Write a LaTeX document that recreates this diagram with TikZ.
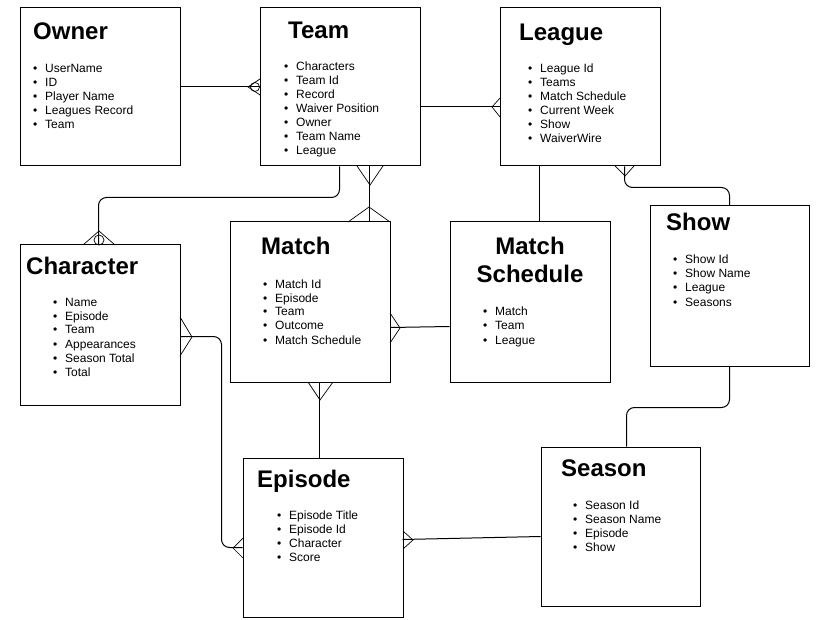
\documentclass[tikz,border=0pt]{standalone}
\usepackage{fontspec}
\setmainfont{Liberation Sans}
\usetikzlibrary{calc}
\tikzset{
  box/.style={draw=black, line width=1pt, fill=white, inner sep=0pt, minimum width=160pt, minimum height=159pt},
  ttl/.style={font=\bfseries\fontsize{24}{24}\selectfont, inner sep=0pt, anchor=base west},
  ttlc/.style={font=\bfseries\fontsize{24}{24}\selectfont, inner sep=0pt, anchor=base},
  itm/.style={font=\fontsize{12}{14}\selectfont, inner sep=0pt, anchor=base west},
  conn/.style={draw=black, line width=1pt, rounded corners=8pt},
  foot/.style={draw=black, line width=0.7pt},
}
\newcommand\itemlist[4]{%
  \foreach \t [count=\i] in {#4} {
    \node[itm] (#1-\i) at (#2-12, #3+14*\i-10) {\makebox[12pt][l]{\textbullet}\t};
  }}
\newcommand\crowfoot[3]{\draw[foot] (#2) -- (#1) -- (#3);}
\begin{document}
\begin{tikzpicture}[x=1pt,y=-1pt]
\useasboundingbox (0,0) rectangle (819,620);
% boxes
\node[box, minimum height=158pt] (owner) at (100,87) {};
\node[box, minimum height=158pt] (team) at (340,87) {};
\node[box, minimum height=158pt] (league) at (580,87) {};
\node[box, minimum height=160pt] (character) at (100,325) {};
\node[box, minimum height=160pt] (match) at (310,302) {};
\node[box, minimum height=160pt] (schedule) at (530,302) {};
\node[box, minimum width=159pt, minimum height=160pt] (show) at (729.5,286) {};
\node[box] (episode) at (323,537.5) {};
\node[box, minimum width=159pt] (season) at (620.5,526.5) {};
% titles
\node[ttl] (t-owner) at (33,40) {Owner};
\node[ttl] (t-team) at (288,39) {Team};
\node[ttl] (t-league) at (519,41) {League};
\node[ttl] (t-character) at (26,275) {Character};
\node[ttl] (t-match) at (261,255) {Match};
\node[ttlc] (t-sched1) at (530,255) {Match};
\node[ttlc] (t-sched2) at (530,283) {Schedule};
\node[ttl] (t-show) at (666,231) {Show};
\node[ttl] (t-episode) at (257,487) {Episode};
\node[ttl] (t-season) at (561,476) {Season};
% item lists
\itemlist{io}{45}{69}{UserName, ID, Player Name, Leagues Record, Team}
\itemlist{it}{296}{67}{Characters, Team Id, Record, Waiver Position, Owner, Team Name, League}
\itemlist{il}{540}{69}{League Id, Teams, Match Schedule, Current Week, Show, WaiverWire}
\itemlist{ic}{65}{302}{Name, Episode, Team, Appearances, Season Total, Total}
\itemlist{im}{275}{284}{Match Id, Episode, Team, Outcome, Match Schedule}
\itemlist{is}{495}{312}{Match, Team, League}
\itemlist{ish}{685}{260}{Show Id, Show Name, League, Seasons}
\itemlist{ie}{289}{515}{Episode Title, Episode Id, Character, Score}
\itemlist{ise}{585}{505}{Season Id, Season Name, Episode, Show}
% connectors
\draw[conn] ($(owner.north east)+(0,79)$) -- ($(team.north west)+(0,79)$);
\draw[conn] ($(team.north east)+(0,99)$) -- ($(league.north west)+(0,99)$);
\draw[conn] ($(team.south west)+(110,0)$) -- ($(match.north west)+(140,0)$);
\draw[conn] ($(league.south west)+(40,0)$) -- ($(schedule.north west)+(90,0)$);
\draw[conn] ($(team.south west)+(80,0)$) -- ++(0,31) -| ($(character.north west)+(79,0)$);
\draw[conn] ($(character.north east)+(0,92)$) -- ++(41,0) |- ($(episode.north west)+(0,90)$);
\draw[conn] ($(match.north east)+(0,106)$) -- ($(schedule.north west)+(0,105)$);
\draw[conn] ($(match.south west)+(90,0)$) -- ($(episode.north west)+(77,0)$);
\draw[conn] ($(episode.north west)+(160,82)$) -- ($(season.north west)+(0,90)$);
\draw[conn] ($(league.south west)+(125,0)$) -- ++(0,21) -| (show.north);
\draw[conn] (show.south) -- ++(0,41) -| ($(season.north west)+(86,0)$);
% crow's feet
\crowfoot{248,87}{260,79}{260,95}
\draw[foot] (255,87) circle[radius=4.5];
\crowfoot{492,107}{500,98}{500,117}
\crowfoot{370,185}{357,166}{383,166}
\crowfoot{369,207}{348,222}{390,222}
\crowfoot{99,231}{83,245}{115,245}
\draw[foot] (99,240) circle[radius=5];
\crowfoot{192,337}{180,317}{180,356}
\crowfoot{233,548}{243,538}{243,558}
\crowfoot{400,328}{390,313}{390,343}
\crowfoot{320,400}{308,382}{333,382}
\crowfoot{413,540}{403,531}{403,549}
\crowfoot{625,176}{615,166}{634,166}
\end{tikzpicture}
\end{document}
